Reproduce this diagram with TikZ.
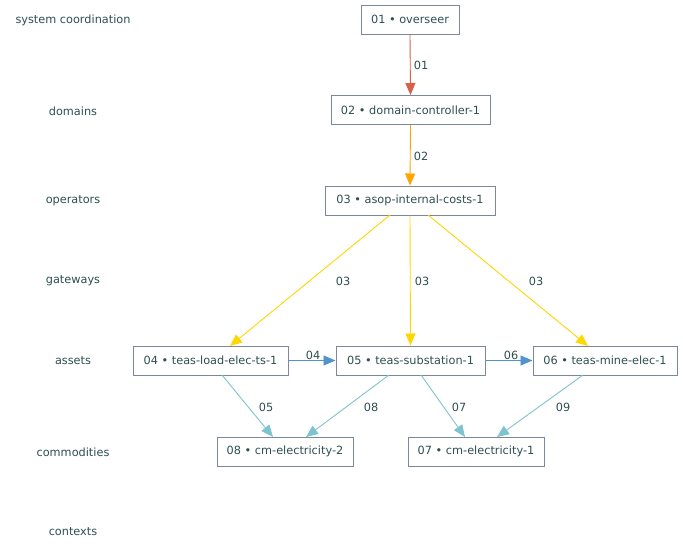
\documentclass[tikz,border=0pt]{standalone}
\usepackage{fontspec}
\setmainfont{DejaVu Sans}
\usetikzlibrary{arrows.meta}
\definecolor{ink}{HTML}{2F4F4F}
\definecolor{frame}{HTML}{7A8899}
\definecolor{cRed}{HTML}{D9604A}
\definecolor{cOrange}{HTML}{FFA500}
\definecolor{cGold}{HTML}{FFD700}
\definecolor{cBlue}{HTML}{4F94CD}
\definecolor{cCyan}{HTML}{7EC4CF}
\newcommand{\labelfont}{\fontsize{11.3}{13}\selectfont}
\tikzset{
  box/.style={draw=frame, line width=1pt, fill=white, text=ink, font=\labelfont,
    minimum height=29pt, inner xsep=0pt, anchor=center},
  tier/.style={text=ink, font=\labelfont, anchor=center},
  elabel/.style={text=ink, font=\labelfont, anchor=center},
  link/.style={line width=0.9pt, -{Triangle[length=12pt, width=10pt]}},
}
\begin{document}
\begin{tikzpicture}[x=1pt, y=-1pt]
\useasboundingbox (0,0) rectangle (683,552);
\fill[white] (0,0) rectangle (683,552);

% tier labels
\node[tier] (t1) at (73,20) {system coordination};
\node[tier] (t2) at (73,111) {domains};
\node[tier] (t3) at (73,201) {operators};
\node[tier] (t4) at (73,281) {gateways};
\node[tier] (t5) at (73,361) {assets};
\node[tier] (t6) at (73,452) {commodities};
\node[tier] (t7) at (73,532) {contexts};

% components
\node[box, minimum width=98pt] (n01) at (410,19.5) {\raisebox{-1pt}{01 • overseer}};
\node[box, minimum width=159pt] (n02) at (410.5,110) {\raisebox{-1pt}{02 • domain-controller-1}};
\node[box, minimum width=170pt] (n03) at (410,200.5) {\raisebox{-1pt}{03 • asop-internal-costs-1}};
\node[box, minimum width=155pt] (n04) at (210.5,360.5) {\raisebox{-1pt}{04 • teas-load-elec-ts-1}};
\node[box, minimum width=149pt] (n05) at (410.5,360.5) {\raisebox{-1pt}{05 • teas-substation-1}};
\node[box, minimum width=144pt] (n06) at (605,360.5) {\raisebox{-1pt}{06 • teas-mine-elec-1}};
\node[box, minimum width=136pt] (n08) at (285,451.5) {\raisebox{-1pt}{08 • cm-electricity-2}};
\node[box, minimum width=136pt] (n07) at (476,451.5) {\raisebox{-1pt}{07 • cm-electricity-1}};

% anchor points along box edges
\coordinate (s03a) at (390,215);
\coordinate (s03c) at (428,215);
\coordinate (e04) at (230,346);
\coordinate (e06) at (588,346);
\coordinate (s04) at (222,375);
\coordinate (s05a) at (389,375);
\coordinate (s05b) at (421,375);
\coordinate (s06) at (583,375);
\coordinate (e08a) at (273,437);
\coordinate (e08b) at (306,437);
\coordinate (e07a) at (465,437);
\coordinate (e07b) at (497,437);

% connectors
\draw[link, cRed] (n01.south) -- (n02.north);
\draw[link, cOrange] (n02.south) -- (n03.north);
\draw[link, cGold] (s03a) -- (e04);
\draw[link, cGold] (n03.south) -- (n05.north);
\draw[link, cGold] (s03c) -- (e06);
\draw[link, cBlue] (n04.east) -- (n05.west);
\draw[link, cBlue] (n05.east) -- (n06.west);
\draw[link, cCyan] (s04) -- (e08a);
\draw[link, cCyan] (s05a) -- (e08b);
\draw[link, cCyan] (s05b) -- (e07a);
\draw[link, cCyan] (s06) -- (e07b);

% connector labels
\node[elabel] (l01) at (421,65) {01};
\node[elabel] (l02) at (421,156) {02};
\node[elabel] (l03a) at (343,281) {03};
\node[elabel] (l03b) at (422,281) {03};
\node[elabel] (l03c) at (536,281) {03};
\node[elabel] (l04) at (313,355) {04};
\node[elabel] (l06) at (511,355) {06};
\node[elabel] (l05) at (266,407) {05};
\node[elabel] (l08) at (371,407) {08};
\node[elabel] (l07) at (459,407) {07};
\node[elabel] (l09) at (563,407) {09};
\end{tikzpicture}
\end{document}
